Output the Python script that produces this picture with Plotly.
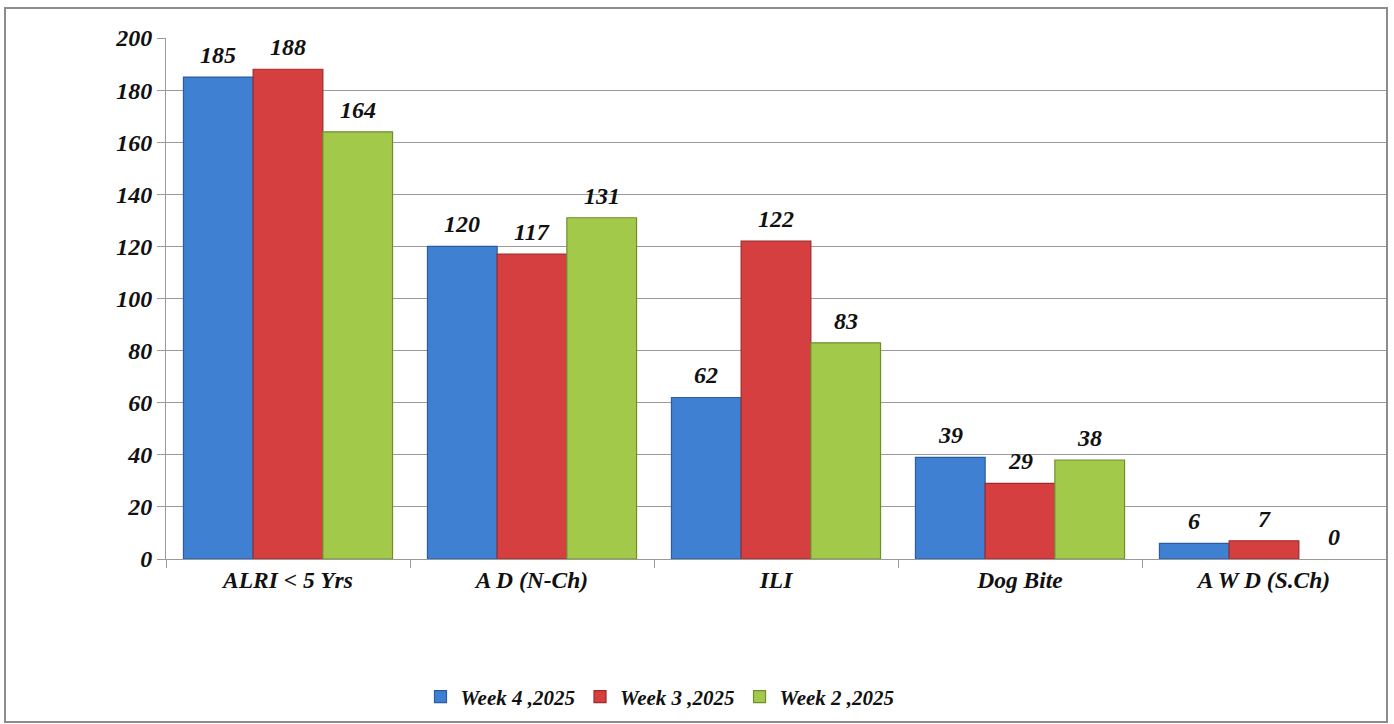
import plotly.graph_objects as go

categories = ["ALRI < 5 Yrs", "A D (N-Ch)", "ILI", "Dog Bite", "A W D (S.Ch)"]
series_names = ["Week 4 ,2025", "Week 3 ,2025", "Week 2 ,2025"]
week4 = [185, 120, 62, 39, 6]
week3 = [188, 117, 122, 29, 7]
week2 = [164, 131, 83, 38, 0]
y_ticks = [0, 20, 40, 60, 80, 100, 120, 140, 160, 180, 200]

series_values = [week4, week3, week2]
colors = ["#3F80D3", "#D63F3F", "#A3C94B"]
edges = ["#2B5C9E", "#9E2A2A", "#6F8F2C"]

FONT = "Liberation Serif, Times New Roman, serif"

W, H = 1394, 724
l, t = 166, 38
r = W - 1386
b = H - 559
pw, ph = W - l - r, H - t - b
BARGAP = 0.143


def px_x(x):
    return (x - l) / pw


def px_y(y):
    return (H - b - y) / ph


fig = go.Figure()
for name, vals, c, e in zip(series_names, series_values, colors, edges):
    fig.add_trace(go.Bar(
        x=categories, y=vals, name=f"<b><i>{name}</i></b>",
        marker=dict(color=c, line=dict(color=e, width=[1.2 if v > 0 else 0 for v in vals])),
    ))

bar_px = pw / len(categories) * (1 - BARGAP) / 3
annotations = []
for i, vals in enumerate(series_values):
    for cat, v in zip(categories, vals):
        annotations.append(dict(
            x=cat, y=v, xref="x", yref="y", text=f"<b><i>{v}</i></b>",
            showarrow=False, xshift=(i - 1) * bar_px, yshift=22,
            font=dict(family=FONT, size=24, color="#111"),
        ))

fig.update_layout(
    width=W, height=H,
    margin=dict(l=l, r=r, t=t, b=b, autoexpand=False),
    barmode="group", bargap=BARGAP, bargroupgap=0.0,
    plot_bgcolor="white", paper_bgcolor="white",
    font=dict(family=FONT, size=20, color="#111"),
    annotations=annotations,
    showlegend=True,
    legend=dict(
        orientation="h", x=px_x(660), xanchor="center", y=px_y(697), yanchor="middle",
        font=dict(family=FONT, size=21, color="#111"),
        traceorder="normal", itemwidth=30,
    ),
    shapes=[dict(
        type="rect", xref="paper", yref="paper",
        x0=px_x(5), x1=px_x(1387), y0=px_y(722), y1=px_y(8),
        line=dict(color="#8C8C8C", width=2), layer="above",
    )],
)
fig.update_yaxes(
    range=[0, 200], tickvals=y_ticks,
    ticktext=[f"<b><i>{v}</i></b>" for v in y_ticks],
    showgrid=True, gridcolor="#9A9A9A", gridwidth=1,
    showline=True, linecolor="#9A9A9A", linewidth=1,
    ticks="outside", ticklen=8, tickcolor="#9A9A9A",
    tickfont=dict(family=FONT, size=24, color="#111"),
    zeroline=False,
)
fig.update_xaxes(
    tickvals=categories,
    ticktext=[f"<b><i>{c}</i></b>" for c in categories],
    showline=True, linecolor="#9A9A9A", linewidth=1,
    ticks="outside", tickson="boundaries", ticklen=8, tickcolor="#9A9A9A",
    tickfont=dict(family=FONT, size=23.5, color="#111"),
    showgrid=False,
)

fig.write_html(
    "out.html",
    config={"displayModeBar": False},
    post_script="document.body.style.margin='0';document.body.style.overflow='hidden';",
)
